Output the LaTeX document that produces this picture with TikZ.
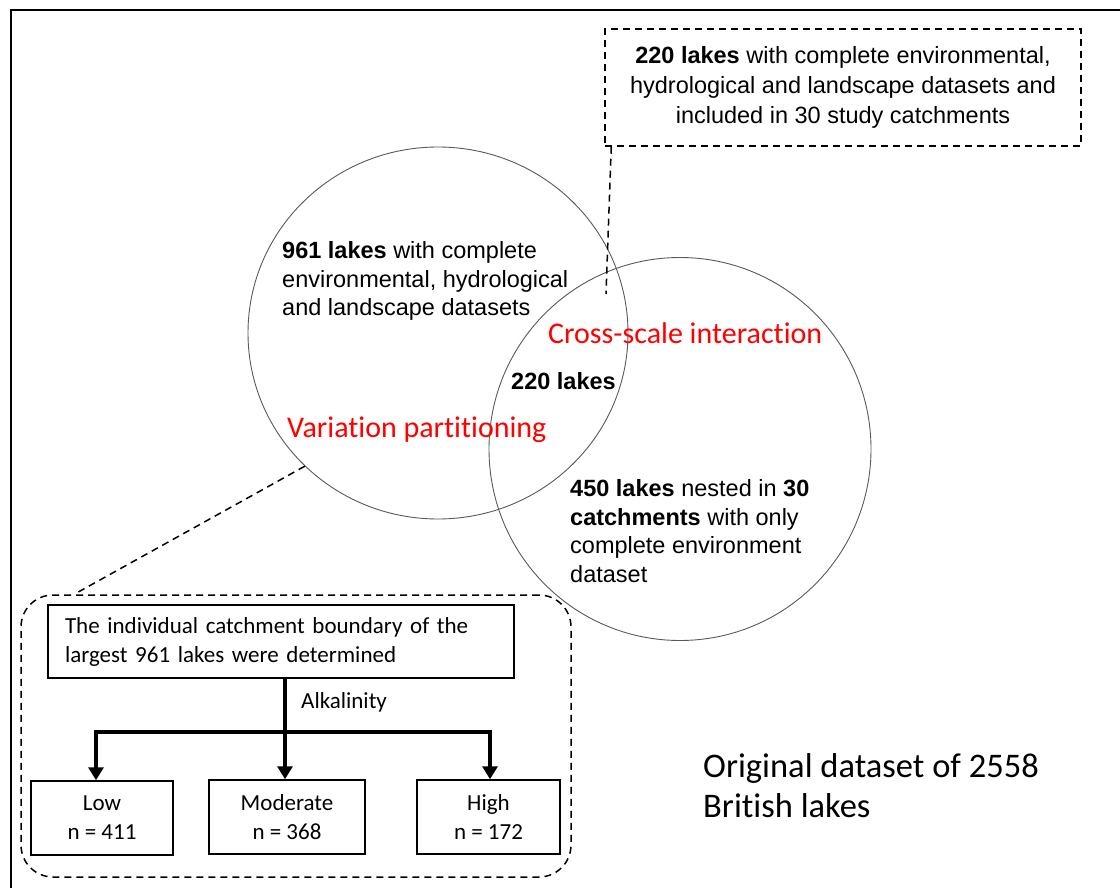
\documentclass[tikz,border=0pt]{standalone}
\usepackage{fontspec}
\setmainfont{Liberation Sans}
\newfontfamily\calib[Ligatures=NoCommon]{Carlito}
\usetikzlibrary{arrows.meta, positioning, shapes.geometric}

\begin{document}
\begin{tikzpicture}[x=1pt,y=-1pt,
  ring/.style={ellipse,draw=black!65,line width=0.9pt,inner sep=0},
  arialtext/.style={font=\fontsize{23.5}{28.5}\selectfont,align=left,inner sep=0,anchor=west},
  redlabel/.style={font=\calib\fontsize{30}{36}\selectfont,text=red,inner sep=0,anchor=west},
  catbox/.style={draw,line width=1.5pt,font=\calib\fontsize{23}{29}\selectfont,align=center,minimum height=74pt,inner sep=0},
  dashln/.style={line width=1.5pt,dash pattern=on 7pt off 5pt},
  branch/.style={line width=4pt},
  tip/.style={-{Triangle[width=15pt,length=13pt]}}]
% Page and frame
\useasboundingbox (0,0) rectangle (1120,888);
\draw[line width=2.5pt] (11,888) -- (11,10) -- (1120,10);
% The two sets of lakes
\node[ring,minimum width=380pt,minimum height=372pt] (lc) at (438,333) {};
\node[ring,minimum width=382pt,minimum height=383pt] (rc) at (680,449) {};
\node[arialtext] (big) at (282,281) {\textbf{961 lakes} with complete\\environmental, hydrological\\and landscape datasets};
\node[arialtext] (both) at (511,381) {\textbf{220 lakes}};
\node[arialtext] (nest) at (570,531) {\textbf{450 lakes} nested in \textbf{30}\\\textbf{catchments} with only\\complete environment\\dataset};
% Red labels
\node[redlabel] (cross) at (548,333) {Cross-scale interaction};
\node[redlabel] (varpart) at (287,430) {Variation partitioning};

% Note on the overlap
\node[draw,dashln,minimum width=476pt,minimum height=117pt,align=center,inner sep=0,
  font=\fontsize{23.5}{30}\selectfont] (note) at (843,87.5)
  {\textbf{220 lakes} with complete environmental,\\hydrological and landscape datasets and\\included in 30 study catchments};
\coordinate (notetip) at (606,294);
\draw[dashln] ([xshift=7pt]note.south west) -- (notetip);

% Catchment split by alkalinity
\node[draw,dashln,rounded corners=32pt,minimum width=550pt,minimum height=282pt] (grp) at (296,736) {};
\draw[dashln] (lc.225) -- ([xshift=54pt]grp.north west);
\node[catbox,minimum width=466pt,minimum height=73pt,text width=432pt,inner xsep=17pt,align=left] (trunk) at (281,641.5)
  {The individual catchment boundary of the\\largest 961 lakes were determined};
\node[catbox,minimum width=142pt] (low) at (102,818) {Low\\n = 411};
\node[catbox,minimum width=156pt] (mod) at (287,817) {Moderate\\n = 368};
\node[catbox,minimum width=143pt] (high) at (488.5,817) {High\\n = 172};
\coordinate (fork) at (285,732);
\draw[branch] (trunk.south -| fork) -- (fork);
\draw[branch,tip] (fork) -- (fork |- mod.north);
\draw[branch,tip] (fork) -| ([xshift=-6pt]low.north);
\draw[branch,tip] (fork) -| ([xshift=1.5pt]high.north);
\node[font=\calib\fontsize{23}{28}\selectfont,anchor=west,inner sep=0] (alk) at (301,702) {Alkalinity};

% Caption of the whole set
\node[font=\calib\fontsize{34.5}{40}\selectfont,align=left,anchor=west,inner sep=0] (orig) at (703,786)
  {Original dataset of 2558\\British lakes};
\end{tikzpicture}
\end{document}
